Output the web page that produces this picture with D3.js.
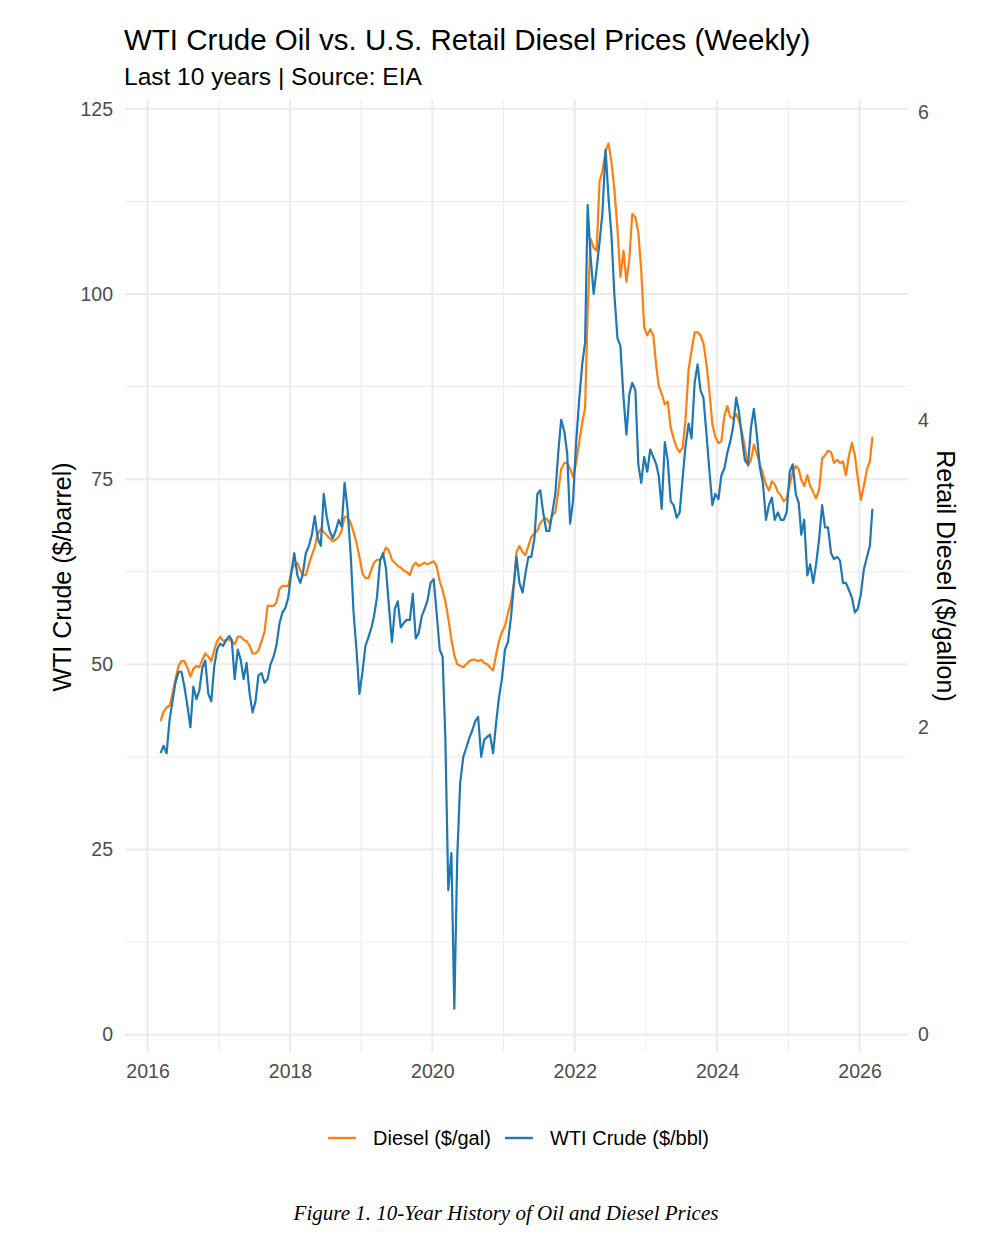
<!DOCTYPE html>
<html>
<head>
<meta charset="utf-8">
<script src="https://cdn.jsdelivr.net/npm/d3@7"></script>
<style>
  body { margin: 0; background: #fff; }
  svg text { font-family: "Liberation Sans", Arial, Helvetica, sans-serif; }
</style>
</head>
<body>
<svg id="chart" width="982" height="1240"></svg>
<script>
/*globals d3*/
// values, two readings per month (1st and 2nd half)
// the first reading is the first half of March 2016
const firstYear = 2016, firstHalf = 4;

const crude2016 = [38, 39, 38, 42.5, 45, 47.5, 49, 49, 47, 44.5, 41.5, 47, 45.3, 46.5, 49.5, 50.5, 46, 45, 49.7, 52];
const crude2017 = [52.8, 52.5, 53.3, 53.8, 53.3, 48, 52, 50.6, 48, 50.2, 46, 43.5, 45, 48.5, 48.8, 47.5, 48, 50, 51, 52.5, 55.5, 57, 57.6, 59];
const crude2018 = [62.5, 65, 62, 61, 62.3, 65, 66, 67.5, 70, 67, 66, 73, 70, 68, 67, 68, 69.5, 68.6, 74.5, 71, 65, 57, 52, 46];
const crude2019 = [49, 52.5, 53.7, 55, 56.5, 59, 64, 65, 63, 58, 53, 57.5, 58.5, 55, 55.6, 56, 56, 59.5, 53.5, 54.2, 56.5, 57.5, 58.7, 61];
const crude2020 = [61.5, 57, 52, 51, 40, 19.5, 24.5, 3.5, 24, 34, 37.5, 38.7, 40, 41, 42.3, 42.9, 37.5, 39.8, 40.2, 40.5, 38, 42, 45.5, 48];
const crude2021 = [52, 53, 56.4, 61, 64.5, 61, 59.7, 62.3, 64.5, 64.5, 67, 73, 73.5, 70.5, 68, 68, 70.5, 73, 78.5, 83, 81.5, 78.5, 69, 72];
const crude2022 = [80, 85.5, 90.5, 93.5, 112, 105, 100, 103.4, 107, 111, 119.5, 113, 108, 100, 94, 93, 86, 81, 86.5, 88, 87, 77, 74.5, 78];
const crude2023 = [76, 79, 78, 77, 75.4, 71, 80, 77.5, 72, 71.5, 69.8, 70.5, 75, 79.5, 82.5, 80.5, 88, 90.5, 87, 86, 81, 76, 71.5, 73];
const crude2024 = [72.3, 75.5, 76.5, 78.6, 80, 82, 86, 84, 80.5, 77.5, 77, 82, 84.5, 81, 76.5, 74.5, 69.5, 71.5, 72.5, 69.5, 70.5, 69.5, 69.5, 70.5];
const crude2025 = [76, 77, 73, 71.8, 67.5, 69.5, 62, 63.5, 61, 63.5, 67, 71.5, 68.5, 68.5, 65, 64.2, 64.5, 64, 61, 61, 60, 59, 57, 57.5];
const crude2026 = [59.5, 62.8, 64.5, 66, 71];

const diesel2016 = [2.04, 2.10, 2.13, 2.14, 2.22, 2.31, 2.40, 2.43, 2.43, 2.39, 2.33, 2.38, 2.40, 2.39, 2.44, 2.48, 2.46, 2.43, 2.50, 2.56];
const diesel2017 = [2.59, 2.56, 2.57, 2.57, 2.56, 2.54, 2.59, 2.59, 2.57, 2.56, 2.53, 2.48, 2.48, 2.50, 2.56, 2.62, 2.79, 2.79, 2.79, 2.81, 2.90, 2.92, 2.92, 2.92];
const diesel2018 = [3.01, 3.06, 3.07, 3.02, 2.99, 2.99, 3.06, 3.12, 3.17, 3.26, 3.29, 3.27, 3.25, 3.23, 3.21, 3.22, 3.24, 3.28, 3.37, 3.37, 3.33, 3.27, 3.20, 3.11];
const diesel2019 = [3.00, 2.97, 2.97, 3.03, 3.07, 3.09, 3.09, 3.12, 3.17, 3.15, 3.09, 3.07, 3.05, 3.04, 3.02, 3.01, 2.99, 3.05, 3.07, 3.05, 3.06, 3.07, 3.06, 3.07];
const diesel2020 = [3.08, 3.05, 2.95, 2.89, 2.82, 2.71, 2.57, 2.47, 2.41, 2.40, 2.39, 2.41, 2.43, 2.44, 2.44, 2.43, 2.44, 2.42, 2.41, 2.39, 2.37, 2.47, 2.56, 2.62];
const diesel2021 = [2.66, 2.74, 2.82, 2.94, 3.14, 3.18, 3.14, 3.12, 3.18, 3.24, 3.26, 3.28, 3.33, 3.35, 3.36, 3.33, 3.38, 3.40, 3.53, 3.68, 3.72, 3.72, 3.68, 3.63];
const diesel2022 = [3.72, 3.85, 3.98, 4.08, 4.70, 5.18, 5.12, 5.10, 5.55, 5.62, 5.75, 5.80, 5.68, 5.50, 5.24, 4.93, 5.10, 4.90, 5.05, 5.34, 5.32, 5.22, 4.97, 4.60];
const diesel2023 = [4.55, 4.59, 4.55, 4.35, 4.22, 4.17, 4.10, 4.12, 3.95, 3.88, 3.82, 3.79, 3.82, 4.00, 4.33, 4.45, 4.57, 4.57, 4.55, 4.50, 4.36, 4.18, 3.97, 3.89];
const diesel2024 = [3.85, 3.86, 4.03, 4.09, 4.02, 4.01, 4.04, 3.99, 3.92, 3.82, 3.70, 3.74, 3.84, 3.78, 3.71, 3.65, 3.58, 3.54, 3.60, 3.58, 3.53, 3.51, 3.47, 3.49];
const diesel2025 = [3.58, 3.66, 3.70, 3.68, 3.61, 3.57, 3.64, 3.57, 3.53, 3.49, 3.55, 3.75, 3.77, 3.80, 3.79, 3.72, 3.74, 3.72, 3.73, 3.64, 3.77, 3.85, 3.77, 3.62];
const diesel2026 = [3.48, 3.57, 3.68, 3.73, 3.89];

const seriesNames = ["Diesel ($/gal)", "WTI Crude ($/bbl)"];
const seriesColors = ["#ff7f0e", "#1f77b4"];
const leftTicks = [0, 25, 50, 75, 100, 125];
const rightTicks = [0, 2, 4, 6];
const yearTicks = [2016, 2018, 2020, 2022, 2024, 2026];
const minorYears = [2017, 2019, 2021, 2023, 2025];
const coef = 20.75; // diesel $/gal drawn on the crude scale

const crude = [].concat(crude2016, crude2017, crude2018, crude2019, crude2020,
  crude2021, crude2022, crude2023, crude2024, crude2025, crude2026);
const diesel = [].concat(diesel2016, diesel2017, diesel2018, diesel2019, diesel2020,
  diesel2021, diesel2022, diesel2023, diesel2024, diesel2025, diesel2026);

function periodDate(i) {
  const half = firstHalf + i;
  const year = firstYear + Math.floor(half / 24);
  const h = half % 24;
  return new Date(year, Math.floor(h / 2), h % 2 ? 23 : 8);
}
const dates = crude.map((d, i) => periodDate(i));

const svg = d3.select("#chart");
const panel = { left: 125, right: 908, top: 100, bottom: 1052 };

// ggplot style 5% expansion of the data range
const xExt = d3.extent(dates);
const xPad = (xExt[1] - xExt[0]) * 0.05;
const x = d3.scaleTime()
  .domain([new Date(+xExt[0] - xPad), new Date(+xExt[1] + xPad)])
  .range([panel.left, panel.right]);

const allY = crude.concat(diesel.map((d) => d * coef));
const yExt = d3.extent(allY);
const yPad = (yExt[1] - yExt[0]) * 0.05;
const y = d3.scaleLinear()
  .domain([yExt[0] - yPad, yExt[1] + yPad])
  .range([panel.bottom, panel.top]);

const yr = (v) => new Date(v, 0, 1);
const grid = svg.append("g").attr("class", "grid");

// minor grid
grid.selectAll(".hminor")
  .data(d3.pairs(leftTicks).map((p) => (p[0] + p[1]) / 2))
  .enter().append("line")
  .attr("x1", panel.left).attr("x2", panel.right)
  .attr("y1", (d) => y(d)).attr("y2", (d) => y(d))
  .attr("stroke", "#ebebeb").attr("stroke-width", 1);
grid.selectAll(".vminor")
  .data(minorYears)
  .enter().append("line")
  .attr("x1", (d) => x(yr(d))).attr("x2", (d) => x(yr(d)))
  .attr("y1", panel.top).attr("y2", panel.bottom)
  .attr("stroke", "#ebebeb").attr("stroke-width", 1);

// major grid
grid.selectAll(".hmajor")
  .data(leftTicks)
  .enter().append("line")
  .attr("x1", panel.left).attr("x2", panel.right)
  .attr("y1", (d) => y(d)).attr("y2", (d) => y(d))
  .attr("stroke", "#ebebeb").attr("stroke-width", 2);
grid.selectAll(".vmajor")
  .data(yearTicks)
  .enter().append("line")
  .attr("x1", (d) => x(yr(d))).attr("x2", (d) => x(yr(d)))
  .attr("y1", panel.top).attr("y2", panel.bottom)
  .attr("stroke", "#ebebeb").attr("stroke-width", 2);

// axes (labels only, no domain line or ticks)
const xAxis = d3.axisBottom(x)
  .tickValues(yearTicks.map(yr))
  .tickFormat(d3.timeFormat("%Y"))
  .tickSize(0).tickPadding(12);
const yAxis = d3.axisLeft(y).tickValues(leftTicks).tickSize(0).tickPadding(12);
const yAxisR = d3.axisRight(y)
  .tickValues(rightTicks.map((d) => d * coef))
  .tickFormat((d) => d3.format("d")(Math.round(d / coef)))
  .tickSize(0).tickPadding(10);

function styleAxis(g) {
  g.select(".domain").remove();
  g.selectAll("text").attr("fill", "#4d4d4d").style("font-size", "19.5px")
    .style("font-family", "'Liberation Sans', Arial, sans-serif");
}
svg.append("g").attr("transform", `translate(0, ${panel.bottom})`).call(xAxis).call(styleAxis);
svg.append("g").attr("transform", `translate(${panel.left}, 0)`).call(yAxis).call(styleAxis);
svg.append("g").attr("transform", `translate(${panel.right}, 0)`).call(yAxisR).call(styleAxis);

// lines
const dieselLine = d3.line().x((d, i) => x(dates[i])).y((d) => y(d * coef));
const crudeLine = d3.line().x((d, i) => x(dates[i])).y((d) => y(d));

svg.append("path").datum(diesel)
  .attr("fill", "none").attr("stroke", seriesColors[0])
  .attr("stroke-width", 2.2).attr("stroke-linejoin", "round")
  .attr("d", dieselLine);
svg.append("path").datum(crude)
  .attr("fill", "none").attr("stroke", seriesColors[1])
  .attr("stroke-width", 2.2).attr("stroke-linejoin", "round")
  .attr("d", crudeLine);

// titles
svg.append("text").attr("x", 124).attr("y", 50)
  .style("font-size", "29.5px").attr("fill", "#000")
  .text("WTI Crude Oil vs. U.S. Retail Diesel Prices (Weekly)");
svg.append("text").attr("x", 124).attr("y", 85)
  .style("font-size", "24.5px").attr("fill", "#000")
  .text("Last 10 years | Source: EIA");

svg.append("text")
  .attr("transform", `translate(71, ${(panel.top + panel.bottom) / 2 + 1}) rotate(-90)`)
  .attr("text-anchor", "middle").style("font-size", "25px")
  .text("WTI Crude ($/barrel)");
svg.append("text")
  .attr("transform", `translate(937, ${(panel.top + panel.bottom) / 2}) rotate(90)`)
  .attr("text-anchor", "middle").style("font-size", "25px")
  .text("Retail Diesel ($/gallon)");

// legend
const legend = svg.append("g").attr("transform", "translate(0, 1138)");
const legendX = [328, 505];
seriesNames.forEach((name, i) => {
  legend.append("line")
    .attr("x1", legendX[i]).attr("x2", legendX[i] + 28)
    .attr("stroke", seriesColors[i]).attr("stroke-width", 2.4);
  legend.append("text")
    .attr("x", legendX[i] + 45).attr("y", 7)
    .style("font-size", "20px").text(name);
});

// caption
svg.append("text").attr("x", 506).attr("y", 1220)
  .attr("text-anchor", "middle")
  .style("font-family", "'Liberation Serif', 'Times New Roman', serif")
  .style("font-style", "italic").style("font-size", "21px")
  .text("Figure 1. 10-Year History of Oil and Diesel Prices");
</script>
</body>
</html>
